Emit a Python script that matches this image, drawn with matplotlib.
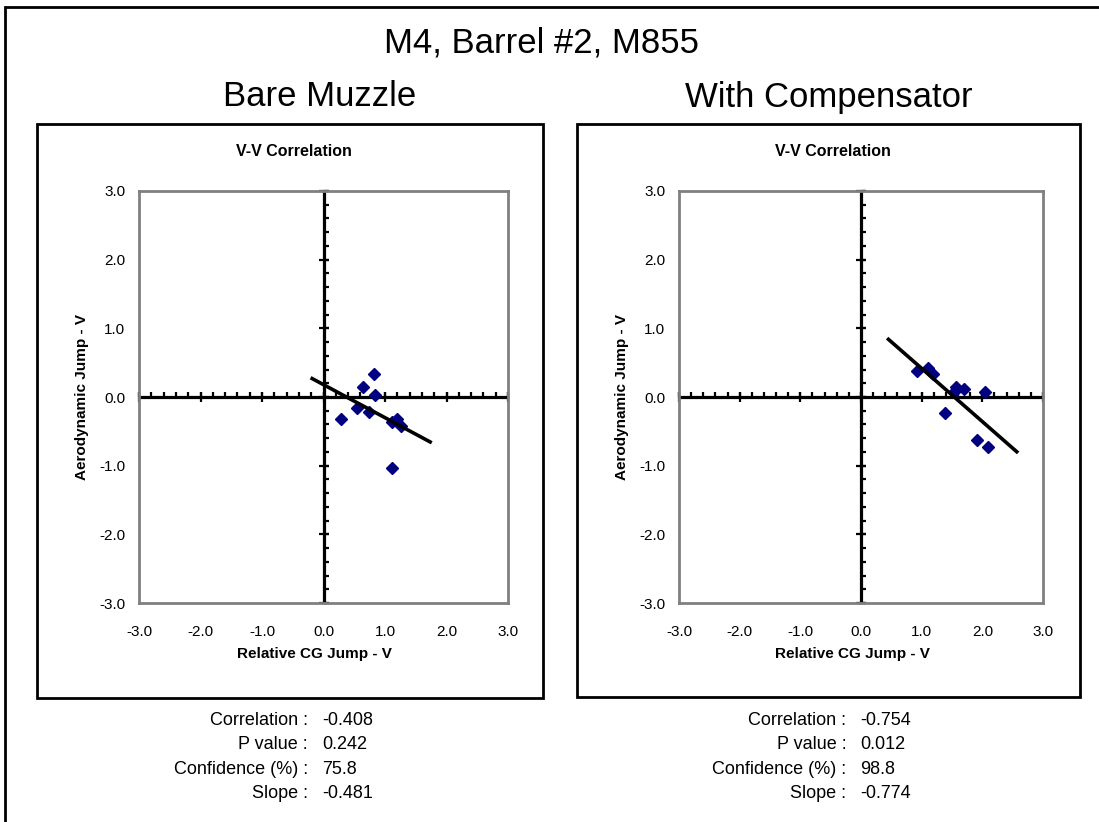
import numpy as np
import matplotlib.pyplot as plt
from matplotlib.patches import Rectangle

plt.rcParams['font.family'] = ['Liberation Sans', 'DejaVu Sans']

W, H = 1099, 822

# Bare muzzle shots: relative CG jump vs aerodynamic jump (vertical)
bare_cg = [0.29, 0.64, 0.82, 0.84, 0.55, 0.74, 1.11, 1.20, 1.26, 1.11]
bare_aero = [-0.32, 0.14, 0.34, 0.03, -0.16, -0.22, -0.36, -0.32, -0.42, -1.03]
bare_stats = ['-0.408', '0.242', '75.8', '-0.481']

# With compensator
comp_cg = [0.93, 1.10, 1.19, 1.56, 1.53, 1.69, 2.04, 1.38, 1.91, 2.09]
comp_aero = [0.385, 0.42, 0.34, 0.14, 0.08, 0.11, 0.07, -0.23, -0.62, -0.73]
comp_stats = ['-0.754', '0.012', '98.8', '-0.774']

stat_names = ['Correlation :', 'P value :', 'Confidence (%) :', 'Slope :']
axis_ticks = [-3.0, -2.0, -1.0, 0.0, 1.0, 2.0, 3.0]


def fx(x):
    return x / W


def fy(y):
    return 1 - y / H


def frame(fig, x0, y0, x1, y1, lw=2.0):
    fig.add_artist(Rectangle((fx(x0), fy(y1)), (x1 - x0) / W, (y1 - y0) / H,
                             transform=fig.transFigure, fill=False,
                             ec='black', lw=lw))


def panel(fig, box, plot, cg, aero, stats, heading, heading_x):
    bx0, by0, bx1, by1 = box
    px0, py0, px1, py1 = plot
    frame(fig, bx0, by0, bx1, by1)

    fig.text(fx(heading_x), fy(97), heading, fontsize=25,
             ha='center', va='center')
    fig.text(fx((bx0 + bx1) / 2 + 4), fy(152), 'V-V Correlation',
             fontsize=11.5, fontweight='bold', ha='center', va='center')

    ax = fig.add_axes([fx(px0), fy(py1), (px1 - px0) / W, (py1 - py0) / H])
    ax.set_xlim(-3, 3)
    ax.set_ylim(-3, 3)
    for s in ax.spines.values():
        s.set_color('#808080')
        s.set_linewidth(2)
    ax.set_xticks(axis_ticks)
    ax.set_yticks(axis_ticks)
    ax.set_xticklabels(['%.1f' % t for t in axis_ticks])
    ax.set_yticklabels(['%.1f' % t for t in axis_ticks])
    ax.tick_params(axis='x', length=0, pad=15.5, labelsize=11)
    ax.tick_params(axis='y', length=0, pad=10, labelsize=11)

    # axes crossing at the origin, Excel style tick marks
    ax.axhline(0, color='black', lw=2.3, zorder=2)
    ax.axvline(0, color='black', lw=2.3, zorder=2)
    minor = np.arange(-3, 3.01, 0.2)
    zero_m = np.zeros_like(minor)
    ax.plot(minor, zero_m, ls='none', marker=2, ms=3.3, mew=1.6,
            color='black', clip_on=False)
    ax.plot(zero_m, minor, ls='none', marker=1, ms=3.3, mew=1.6,
            color='black', clip_on=False)
    major = np.array(axis_ticks)
    zero_M = np.zeros_like(major)
    ax.plot(major, zero_M, ls='none', marker='|', ms=6.5, mew=1.6,
            color='black', clip_on=False)
    ax.plot(zero_M, major, ls='none', marker='_', ms=6.5, mew=1.6,
            color='black', clip_on=False)

    ax.plot(cg, aero, ls='none', marker='D', ms=6.5, color='#000080',
            zorder=4)

    # linear trend through the means, extended half a unit each side
    slope = float(stats[3])
    xm, ym = np.mean(cg), np.mean(aero)
    xs = np.array([min(cg) - 0.5, max(cg) + 0.5])
    ax.plot(xs, ym + slope * (xs - xm), color='black', lw=2.6, zorder=5,
            solid_capstyle='butt')

    fig.text(fx((px0 + px1) / 2 - 9), fy(654), 'Relative CG Jump - V',
             fontsize=11, fontweight='bold', ha='center', va='center')
    fig.text(fx(px0 - 57), fy((py0 + py1) / 2), 'Aerodynamic Jump - V',
             fontsize=11, fontweight='bold', ha='center', va='center',
             rotation=90)

    colon_x = (bx0 + bx1) / 2 + 18
    for i, (name, val) in enumerate(zip(stat_names, stats)):
        yy = 720 + i * 24.5
        fig.text(fx(colon_x), fy(yy), name, fontsize=13,
                 ha='right', va='center')
        fig.text(fx(colon_x + 14), fy(yy), val, fontsize=13,
                 ha='left', va='center')
    return ax


fig = plt.figure(figsize=(W / 100, H / 100), dpi=100)

# outer slide border (runs off the right and bottom edges)
frame(fig, 5, 6.5, 1300, 1000, lw=2)

fig.text(fx(541), fy(43), 'M4, Barrel #2, M855', fontsize=25,
         ha='center', va='center')

panel(fig, (37, 124, 543, 698), (139, 191, 508, 603),
      bare_cg, bare_aero, bare_stats, 'Bare Muzzle', 320)
panel(fig, (577, 124, 1080, 697), (679, 191, 1043, 603),
      comp_cg, comp_aero, comp_stats, 'With Compensator', 829)

fig.savefig('out.png', dpi=100)
